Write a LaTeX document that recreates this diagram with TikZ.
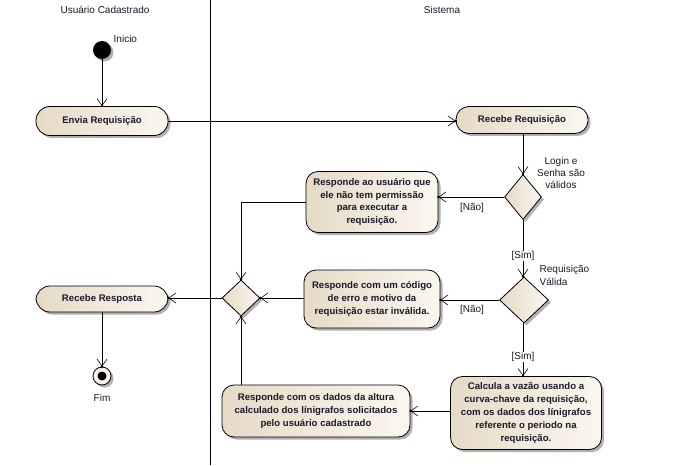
\documentclass[tikz,border=0pt]{standalone}
\usepackage{fontspec}
\setmainfont{Liberation Sans}
\usetikzlibrary{arrows.meta,shapes.geometric,shadows,decorations.markings}
\definecolor{boxL}{HTML}{E6DAC6}
\definecolor{boxR}{HTML}{FBF7F0}
\definecolor{shd}{HTML}{B0B0B0}
\definecolor{txt}{HTML}{1A1A2A}
\tikzset{
  shadowed/.style={drop shadow={shadow xshift=2.5pt, shadow yshift=-2.5pt, fill=shd, opacity=1}},
  act/.style={draw=black, line width=0.8pt, left color=boxL, right color=boxR, rounded corners=12pt,
    align=center, text=txt, font=\fontsize{9.6}{12.8}\selectfont\bfseries, inner sep=0pt, shadowed},
  decision/.style={diamond, draw=black, line width=0.8pt, left color=boxL, right color=boxR, inner sep=0pt, shadowed},
  lbl/.style={font=\fontsize{10}{12.2}\selectfont, text=txt, inner sep=0.5pt},
  conn/.style={line width=0.8pt, -{Straight Barb[length=7pt,width=10pt,line width=0.6pt]},
    decoration={markings, mark=at position 1 with {\fill[black] (0,0) circle (1.4pt);}}, postaction=decorate},
  plain/.style={line width=0.8pt}
}
\begin{document}
\begin{tikzpicture}[x=1pt,y=-1pt]
\useasboundingbox[fill=white] (0,0) rectangle (684,465);
% swimlane
\draw[line width=1pt] (210,0) -- (210,465);
\node[lbl] (laneU) at (105,10) {Usuário Cadastrado};
\node[lbl] (laneS) at (442,10) {Sistema};

% nodes
\node[circle, fill=black, minimum size=18pt, inner sep=0pt, shadowed] (start) at (102,50) {};
\node[lbl, anchor=west] (inicio) at (113,39) {Inicio};

\node[act, rounded corners=14pt, minimum width=132pt, minimum height=29pt] (envia) at (102,121) {Envia Requisição};
\node[act, rounded corners=13pt, minimum width=132pt, minimum height=27pt] (recebe) at (522,120) {Recebe Requisição};

\node[decision, minimum width=37pt, minimum height=45pt] (d1) at (523,197) {};
\node[lbl, align=center] (d1lbl) at (561,173) {Login e\\Senha são\\válidos};

\node[act, minimum width=132pt, minimum height=61pt] (r1) at (372,202) {Responde ao usuário que\\ele não tem permissão\\para executar a\\requisição.};

\node[decision, minimum width=38pt, minimum height=36pt] (md) at (241,298) {};

\node[decision, minimum width=49pt, minimum height=46pt] (d2) at (524,300) {};
\node[lbl, align=left, anchor=north west] (d2lbl) at (539,265) {Requisição\\Válida};

\node[act, minimum width=136pt, minimum height=58pt] (r2) at (372,299) {Responde com um código\\de erro e motivo da\\requisição estar inválida.};

\node[act, rounded corners=14pt, minimum width=132pt, minimum height=26pt] (resp) at (102,299) {Recebe Resposta};

\node[circle, draw=black, line width=0.8pt, fill=boxR, minimum size=18pt, inner sep=0pt, shadowed] (fim) at (102,376) {};
\node[circle, fill=black, minimum size=9pt, inner sep=0pt] (fimdot) at (fim.center) {};
\node[lbl] (fimlbl) at (102,398) {Fim};

\node[act, minimum width=151pt, minimum height=73pt] (calc) at (526,413) {Calcula a vazão usando a\\curva-chave da requisição,\\com os dados dos línigrafos\\referente o periodo na\\requisição.};

\node[act, minimum width=188pt, minimum height=52pt] (r3) at (316,411) {Responde com os dados da altura\\calculado dos línigrafos solicitados\\pelo usuário cadastrado};

% connectors
\draw[conn] (start.south) -- (envia.north);
\draw[conn] (envia.east) -- (recebe.west |- envia.east);
\draw[conn] (recebe.south -| d1.north) -- (d1.north);
\draw[conn] (d1.west) -- (r1.east |- d1.west);
\node[lbl] (nao1) at (472,208) {[Não]};
\draw[conn] (r1.west) -| (md.north);
\draw[conn] (d1.south) -- (d2.north -| d1.south);
\node[lbl, fill=white] (sim1) at (523,256) {[Sim]};
\draw[conn] (d2.west) -- (r2.east |- d2.west);
\node[lbl] (nao2) at (472,310) {[Não]};
\draw[conn] (r2.west |- md.east) -- (md.east);
\draw[conn] (md.west) -- (resp.east |- md.west);
\draw[conn] (d2.south -| d1.south) -- (calc.north -| d1.south);
\node[lbl, fill=white] (sim2) at (523,357) {[Sim]};
\draw[conn] (calc.west |- r3.east) -- (r3.east);
\draw[conn] (r3.north -| md.south) -- (md.south);
\draw[conn] (resp.south) -- (fim.north);
\end{tikzpicture}
\end{document}
